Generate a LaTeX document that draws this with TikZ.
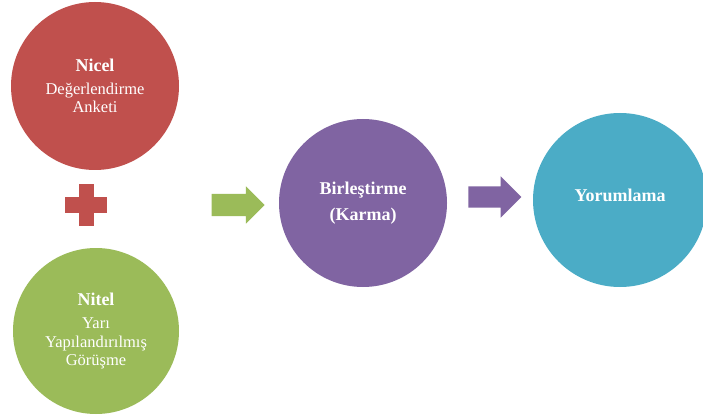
\documentclass[tikz,border=0pt]{standalone}
\usepackage{fontspec}
\setmainfont{Liberation Serif}
\usetikzlibrary{shapes.arrows}
\definecolor{kirmizi}{HTML}{C0504D}
\definecolor{yesil}{HTML}{9BBB59}
\definecolor{mor}{HTML}{8064A2}
\definecolor{mavi}{HTML}{4BACC6}
\newcommand{\baslik}[1]{{\fontsize{18}{20}\selectfont\bfseries #1}}
\tikzset{
  daire/.style={circle, minimum size=168pt, inner sep=0pt, text=white, align=center,
    font=\fontsize{16.5}{18.5}\selectfont},
  okblok/.style={single arrow, inner xsep=0pt, minimum height=53pt, single arrow head indent=0pt}
}
\begin{document}
\begin{tikzpicture}[x=1pt,y=1pt]
\useasboundingbox (0,0) rectangle (703,418);
\clip (0,0) rectangle (703,418);
% iki veri kaynagi
\node[daire, fill=kirmizi] (nicel) at (95,332) {\baslik{Nicel}\\[4pt] Değerlendirme\\ Anketi};
\node[daire, fill=yesil, minimum size=166pt] (nitel) at (96,87) {\baslik{Nitel}\\[5pt] Yarı\\ Yapılandırılmış\\ Görüşme};
% arti isareti
\coordinate (arti) at (86,213);
\fill[kirmizi] ([shift={(-21,-7.5)}]arti) rectangle ([shift={(21,7.5)}]arti);
\fill[kirmizi] ([shift={(-7.5,-21)}]arti) rectangle ([shift={(7.5,21)}]arti);
% birlestirme ve yorum
\node[okblok, fill=yesil, inner ysep=11pt, single arrow head extend=7.5pt] (ok1) at (232.5,213) {};
\node[daire, fill=mor] (karma) at (363,215) {\baslik{Birleştirme}\\[8pt]\baslik{(Karma)}};
\node[okblok, fill=mor, inner ysep=10.5pt, single arrow head extend=10pt] (ok2) at (489.5,221) {};
\node[daire, fill=mavi, minimum size=174pt] (yorum) at (620,218) {\raisebox{5pt}[\height][\depth]{\baslik{Yorumlama}}};
\end{tikzpicture}
\end{document}
